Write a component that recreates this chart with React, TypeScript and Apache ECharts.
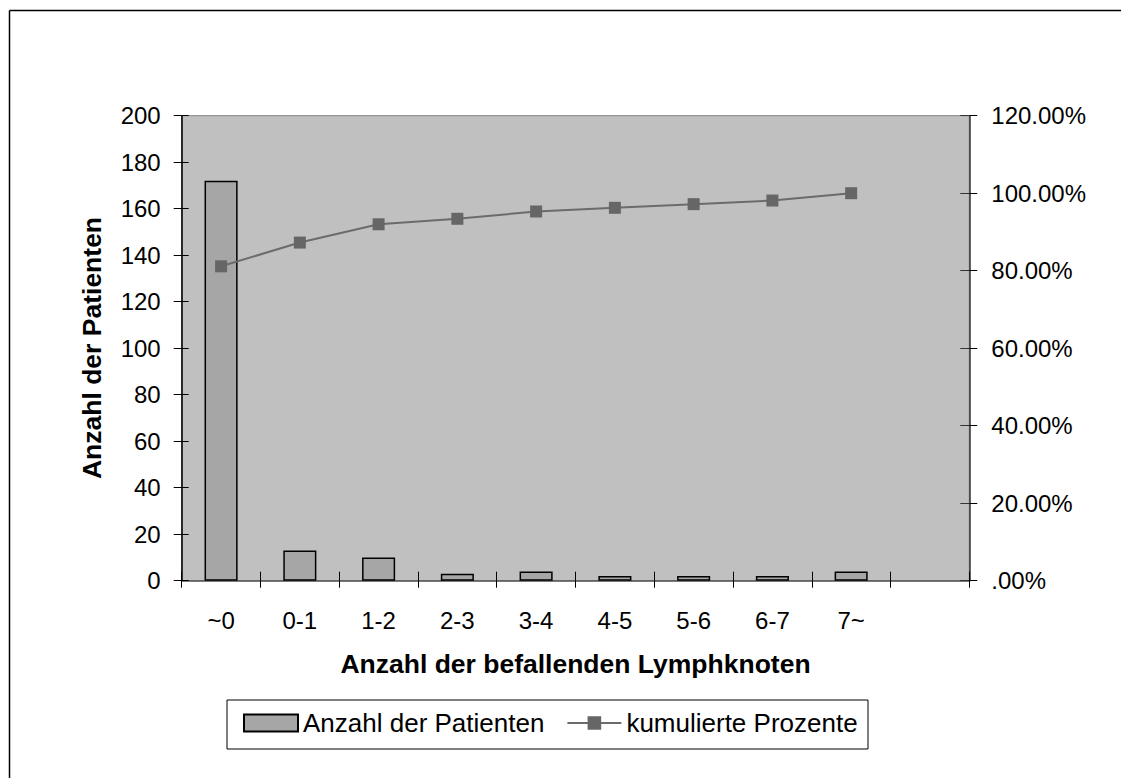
import React, { useEffect, useRef } from "react";
import * as echarts from "echarts";

// Lymph node groups (last slot left empty on the axis)
const categories = ["~0", "0-1", "1-2", "2-3", "3-4", "4-5", "5-6", "6-7", "7~", ""];
// Number of patients per group
const patientCounts = [172, 13, 10, 3, 4, 2, 2, 2, 4];
// Cumulative share of patients, in percent
const cumulativePercent = [81.13, 87.26, 91.98, 93.4, 95.28, 96.23, 97.17, 98.11, 100.0];

const leftTicks = { min: 0, max: 200, interval: 20 };
const rightTicks = { min: 0, max: 120, interval: 20 };

const FONT = "'Liberation Sans', Arial, sans-serif";

export default function App() {
  const ref = useRef<HTMLDivElement>(null);

  useEffect(() => {
    if (!ref.current) return;
    const chart = echarts.init(ref.current, undefined, { renderer: "svg" });

    const tickLabel = { fontSize: 24, color: "#000", fontFamily: FONT };

    const option = {
      animation: false,
      backgroundColor: "#ffffff",
      textStyle: { fontFamily: FONT },
      grid: {
        left: 181.7,
        right: 151.7,
        top: 115.7,
        bottom: 197.3,
        show: true,
        backgroundColor: "#C0C0C0",
        borderColor: "#808080",
        borderWidth: 1,
      },
      legend: {
        left: 243,
        top: 710,
        itemWidth: 54,
        itemHeight: 17,
        itemGap: 22,
        padding: 0,
        textStyle: { fontSize: 26, color: "#000", fontFamily: FONT },
        data: [
          { name: "Anzahl der Patienten", icon: "rect" },
          { name: "kumulierte Prozente" },
        ],
      },
      xAxis: [
        {
          type: "category",
          data: categories,
          position: "bottom",
          axisLine: { show: true, lineStyle: { color: "#555", width: 1.5 } },
          axisTick: { show: true, inside: false, length: 7, interval: 0, lineStyle: { color: "#000" } },
          axisLabel: { ...tickLabel, interval: 0, margin: 28 },
          splitLine: { show: false },
        },
        {
          type: "category",
          data: categories,
          position: "bottom",
          axisLine: { show: false },
          axisTick: { show: true, inside: true, length: 9, interval: 0, lineStyle: { color: "#000" } },
          axisLabel: { show: false },
          splitLine: { show: false },
        },
      ],
      yAxis: [
        {
          type: "value",
          position: "left",
          ...leftTicks,
          axisLine: { show: true, lineStyle: { color: "#000", width: 1.5 } },
          axisTick: { show: true, inside: false, length: 8, lineStyle: { color: "#000" } },
          axisLabel: { ...tickLabel, margin: 21 },
          splitLine: { show: false },
        },
        {
          type: "value",
          position: "right",
          ...rightTicks,
          axisLine: { show: true, lineStyle: { color: "#333", width: 1.5 } },
          axisTick: { show: true, inside: false, length: 8, lineStyle: { color: "#000" } },
          axisLabel: {
            ...tickLabel,
            margin: 22,
            formatter: (v: number) => (v === 0 ? ".00%" : v.toFixed(2) + "%"),
          },
          splitLine: { show: false },
        },
        {
          type: "value",
          position: "left",
          ...leftTicks,
          axisLine: { show: false },
          axisTick: { show: true, inside: true, length: 7, lineStyle: { color: "#000" } },
          axisLabel: { show: false },
          splitLine: { show: false },
        },
        {
          type: "value",
          position: "right",
          ...rightTicks,
          axisLine: { show: false },
          axisTick: { show: true, inside: true, length: 9, lineStyle: { color: "#333" } },
          axisLabel: { show: false },
          splitLine: { show: false },
        },
      ],
      series: [
        {
          name: "Anzahl der Patienten",
          type: "bar",
          xAxisIndex: 0,
          yAxisIndex: 0,
          data: patientCounts,
          barWidth: "42%",
          itemStyle: { color: "#A6A6A6", borderColor: "#000", borderWidth: 1.5 },
        },
        {
          name: "kumulierte Prozente",
          type: "line",
          xAxisIndex: 0,
          yAxisIndex: 1,
          data: cumulativePercent,
          symbol: "rect",
          symbolSize: 12,
          lineStyle: { color: "#6B6B6B", width: 2 },
          itemStyle: { color: "#666666" },
        },
      ],
      graphic: [
        // outer frame: only its top and left edges fall inside the page
        {
          type: "line",
          z: -1,
          shape: { x1: 9.5, y1: 10.5, x2: 1121, y2: 10.5 },
          style: { stroke: "#000", lineWidth: 1.5 },
        },
        {
          type: "line",
          z: -1,
          shape: { x1: 9.5, y1: 10.5, x2: 9.5, y2: 778 },
          style: { stroke: "#000", lineWidth: 1.5 },
        },
        {
          type: "rect",
          z: -1,
          shape: { x: 227, y: 700, width: 641, height: 49 },
          style: { fill: "#fff", stroke: "#000", lineWidth: 1 },
        },
        {
          type: "text",
          x: 92,
          y: 348,
          rotation: Math.PI / 2,
          style: {
            text: "Anzahl der Patienten",
            fontSize: 26.5,
            fontWeight: "bold",
            fontFamily: FONT,
            fill: "#000",
            align: "center",
            verticalAlign: "middle",
          },
        },
        {
          type: "text",
          x: 575.5,
          y: 664,
          style: {
            text: "Anzahl der befallenden Lymphknoten",
            fontSize: 26.5,
            fontWeight: "bold",
            fontFamily: FONT,
            fill: "#000",
            align: "center",
            verticalAlign: "middle",
          },
        },
      ],
    };

    chart.setOption(option as any);
    return () => chart.dispose();
  }, []);

  return (
    <div
      ref={ref}
      style={{ position: "fixed", left: 0, top: 0, width: 1121, height: 778 }}
    />
  );
}
